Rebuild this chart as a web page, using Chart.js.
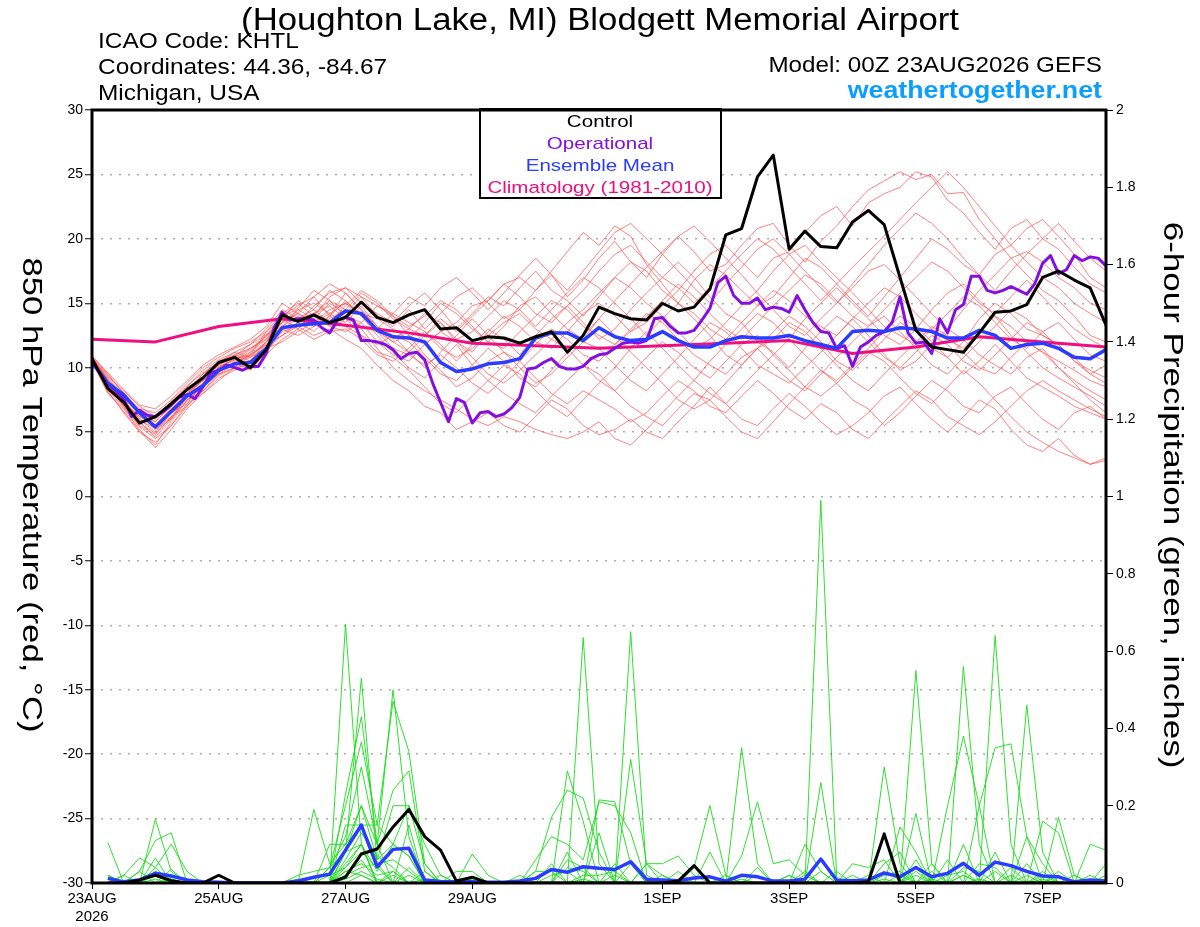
<!DOCTYPE html>
<html>
<head>
<meta charset="utf-8">
<script src="https://cdn.jsdelivr.net/npm/chart.js@4.4.1/dist/chart.umd.min.js"></script>
<style>
html, body { margin: 0; padding: 0; background: #fff; }
#wrap { width: 1200px; height: 927px; }
</style>
</head>
<body>
<div id="wrap"><canvas id="gefs" width="1200" height="927"></canvas></div>
<script>
// forecast steps (hours after 00Z 23AUG2026)
const stepHours = [];
for (let h = 0; h <= 384; h += 6) stepHours.push(h);
const opHours = [];
for (let h = 0; h <= 384; h += 3) opHours.push(h);
const climHours = [];
for (let h = 0; h <= 384; h += 24) climHours.push(h);
const precipHours = stepHours.slice(1);

const dayTickHours = [0, 48, 96, 144, 216, 264, 312, 360];
const dayTickLabels = [["23AUG", "2026"], "25AUG", "27AUG", "29AUG", "1SEP", "3SEP", "5SEP", "7SEP"];

// 850 hPa temperature, deg C
const controlTemp = [
  10.7, 8.4, 7.3, 5.7, 6.2, 7.2, 8.3, 9.2, 10.4, 10.8,
  10.0, 11.4, 14.1, 13.6, 14.1, 13.5, 13.9, 15.1, 13.9, 13.5,
  14.1, 14.5, 13.0, 13.1, 12.1, 12.4, 12.3, 11.9, 12.4, 12.8,
  11.2, 12.5, 14.7, 14.2, 13.8, 13.7, 15.0, 14.4, 14.7, 16.1,
  20.3, 20.8, 24.8, 26.5, 19.2, 20.6, 19.4, 19.3, 21.3, 22.2,
  21.1, 17.0, 12.9, 11.6, 11.4, 11.2, 12.7, 14.3, 14.4, 14.9,
  17.0, 17.5, 16.8, 16.2, 13.3
];
const meanTemp = [
  10.4, 8.8, 7.9, 6.5, 5.4, 6.6, 7.8, 8.6, 9.8, 10.3,
  10.4, 11.5, 13.1, 13.3, 13.4, 13.5, 14.4, 14.2, 12.9, 12.4,
  12.3, 12.0, 10.4, 9.7, 9.9, 10.3, 10.4, 10.7, 12.3, 12.7,
  12.7, 12.1, 13.1, 12.4, 12.1, 12.2, 12.8, 12.1, 11.6, 11.6,
  12.1, 12.4, 12.3, 12.3, 12.5, 12.1, 11.8, 11.5, 12.8, 12.9,
  12.8, 13.1, 13.0, 12.8, 12.3, 12.3, 12.9, 12.5, 11.5, 11.8,
  11.9, 11.5, 10.8, 10.7, 11.4
];
const operationalTemp = [
  10.5, 9.6, 8.7, 8.2, 7.6, 6.2, 6.7, 6.3, 6.2, 6.6,
  7.1, 7.7, 7.9, 7.6, 8.5, 9.6, 9.8, 10.2, 10.0, 9.8,
  10.1, 10.1, 11.1, 13.1, 14.3, 13.7, 13.8, 13.8, 13.7, 13.1,
  12.7, 13.7, 13.9, 13.7, 12.1, 12.1, 12.0, 11.8, 11.4, 10.7,
  11.1, 11.2, 10.6, 8.8, 7.3, 5.8, 7.6, 7.3, 5.7, 6.5,
  6.6, 6.2, 6.4, 6.9, 7.7, 9.9, 10.0, 10.4, 10.7, 10.1,
  9.9, 9.9, 10.1, 10.7, 11.0, 11.1, 11.5, 11.9, 12.0, 11.9,
  12.1, 13.8, 13.9, 13.2, 12.7, 12.7, 12.9, 13.7, 14.6, 16.6,
  17.1, 15.6, 15.0, 15.0, 15.4, 14.5, 14.7, 14.6, 14.3, 15.6,
  14.5, 13.5, 12.8, 12.7, 11.5, 11.7, 10.1, 11.6, 12.0, 12.5,
  12.8, 13.5, 15.5, 12.7, 11.9, 12.0, 11.1, 13.8, 12.7, 14.5,
  14.9, 17.1, 17.1, 16.0, 15.8, 16.0, 16.3, 16.0, 15.7, 16.5,
  18.1, 18.7, 17.3, 17.6, 18.7, 18.3, 18.6, 18.5, 17.9
];
const climatologyTemp = [12.2, 12.0, 13.2, 13.8, 13.3, 12.7, 11.9, 11.7, 11.5, 11.7, 11.9, 12.1, 11.1, 11.6, 12.4, 12.0, 11.6];

// ensemble members, one row each
const memberTemps = [
  [10.8, 9.0, 7.5, 6.0, 5.5, 6.8, 8.0, 9.5, 10.2, 11.0, 10.5, 12.0, 13.5, 14.5, 13.8, 15.0, 14.2, 15.5, 14.0, 13.2,
   14.5, 13.0, 14.2, 15.5, 16.2, 15.0, 13.8, 14.5, 16.0, 17.2, 15.5, 16.8, 18.5, 19.8, 18.2, 17.0, 18.8, 20.2, 19.0, 17.5,
   18.0, 19.5, 20.8, 21.2, 19.5, 18.2, 19.8, 21.0, 22.5, 23.8, 24.5, 25.2, 24.6, 25.0, 23.5, 23.6, 21.5, 20.0, 18.5, 17.2,
   16.0, 15.2, 14.0, 12.5, 12.0],
  [10.5, 8.2, 6.5, 5.0, 4.2, 5.5, 7.0, 8.5, 9.8, 10.4, 9.8, 11.2, 12.8, 13.2, 12.5, 13.0, 12.2, 11.5, 10.2, 9.0,
   8.2, 7.0, 6.5, 5.2, 5.8, 6.5, 5.5, 5.0, 6.2, 7.5, 6.8, 5.5, 4.8, 5.2, 6.0, 5.0, 4.5, 5.8, 7.0, 8.5,
   7.2, 6.0, 5.5, 6.8, 8.0, 7.0, 5.8, 4.8, 5.5, 6.5, 7.8, 8.5, 7.2, 6.0, 5.0, 6.2, 7.5, 6.8, 5.2, 4.0,
   3.5, 4.5, 3.2, 2.5, 3.0],
  [10.6, 8.8, 7.2, 6.2, 5.8, 7.0, 8.2, 9.0, 10.0, 10.8, 11.5, 12.5, 13.0, 13.8, 14.5, 13.5, 14.8, 16.0, 15.2, 14.0,
   12.5, 11.8, 12.8, 13.5, 14.8, 15.2, 16.5, 17.0, 16.0, 17.5, 19.0, 20.5, 19.5, 21.0, 20.2, 18.0, 16.5, 15.0, 13.8, 12.5,
   11.0, 10.2, 11.5, 12.8, 14.0, 13.2, 12.0, 10.5, 9.8, 11.0, 12.2, 13.5, 12.8, 11.5, 10.8, 12.0, 13.8, 15.0, 14.2, 13.0,
   12.5, 11.8, 10.5, 9.5, 8.8],
  [10.4, 8.5, 7.0, 5.5, 4.8, 6.2, 7.8, 8.8, 9.5, 10.0, 11.2, 12.2, 13.8, 13.0, 14.2, 14.8, 13.8, 13.2, 12.8, 12.0,
   12.5, 11.0, 9.8, 8.5, 9.2, 10.5, 11.2, 10.0, 8.8, 9.5, 10.8, 12.0, 11.5, 10.2, 9.0, 8.2, 9.5, 10.8, 12.2, 13.5,
   12.8, 11.5, 10.2, 9.5, 8.8, 10.0, 11.2, 12.5, 13.8, 12.5, 11.0, 9.8, 10.5, 11.8, 13.0, 12.2, 11.0, 10.2, 9.5, 10.8,
   11.5, 10.0, 9.0, 8.2, 7.5],
  [10.7, 9.2, 7.8, 6.5, 6.0, 7.2, 8.5, 9.8, 10.6, 11.2, 10.8, 12.0, 14.0, 14.8, 15.5, 14.0, 15.8, 14.5, 13.2, 12.2,
   13.0, 12.5, 13.5, 12.0, 11.2, 12.8, 14.0, 13.2, 12.0, 11.5, 12.8, 14.2, 15.0, 14.0, 12.8, 13.5, 14.8, 16.0, 17.5, 18.8,
   19.5, 18.2, 17.0, 18.5, 19.0, 20.5, 21.8, 22.5, 21.0, 22.8, 23.5, 24.0, 25.2, 24.8, 23.0, 22.0, 20.5, 19.2, 20.8, 21.5,
   20.0, 21.2, 19.8, 18.5, 17.5],
  [10.5, 8.0, 6.8, 5.2, 4.0, 5.8, 7.5, 8.2, 9.6, 10.5, 11.0, 11.8, 12.5, 13.5, 12.8, 14.0, 15.2, 14.0, 12.5, 11.2,
   10.0, 9.2, 10.5, 11.8, 10.2, 9.0, 8.0, 7.2, 6.5, 7.8, 9.0, 10.2, 9.5, 8.2, 7.0, 6.2, 5.5, 6.8, 8.0, 7.5,
   6.2, 5.0, 4.5, 5.8, 7.2, 8.5, 9.8, 8.8, 7.5, 6.8, 5.5, 6.5, 7.8, 9.0, 8.2, 7.0, 6.5, 7.8, 8.5, 7.2,
   6.0, 5.2, 6.5, 7.0, 6.0],
  [10.9, 9.5, 8.0, 6.8, 6.5, 7.5, 8.8, 10.0, 10.8, 11.5, 12.0, 12.8, 14.2, 15.0, 14.0, 15.5, 16.2, 15.0, 14.2, 13.5,
   14.8, 15.8, 14.5, 13.0, 14.2, 15.5, 14.8, 16.2, 17.5, 16.0, 15.2, 14.0, 15.5, 17.0, 18.2, 17.5, 16.0, 15.0, 16.8, 18.0,
   17.2, 16.0, 14.8, 15.5, 17.0, 18.5, 17.8, 16.5, 15.2, 14.0, 15.5, 17.0, 18.5, 20.0, 19.2, 18.0, 17.2, 18.8, 19.5, 20.8,
   21.5, 20.2, 18.8, 17.0, 16.2],
  [10.3, 8.6, 7.3, 6.0, 5.0, 6.5, 7.2, 8.0, 9.2, 9.8, 10.5, 11.5, 12.0, 12.8, 13.5, 12.8, 13.0, 12.2, 11.0, 10.5,
   11.5, 12.8, 11.8, 10.5, 11.8, 13.0, 12.2, 11.0, 12.5, 13.8, 14.8, 13.5, 12.2, 13.0, 14.5, 15.8, 17.0, 18.2, 17.0, 15.5,
   14.2, 13.5, 12.0, 11.2, 10.0, 11.5, 12.8, 14.0, 13.2, 12.0, 10.8, 10.0, 11.2, 12.5, 11.8, 10.5, 9.8, 11.0, 12.2, 13.5,
   12.8, 11.5, 10.8, 9.5, 10.2],
  [10.6, 8.9, 7.6, 6.4, 5.2, 6.0, 7.8, 9.2, 10.2, 10.9, 11.8, 12.6, 13.2, 14.0, 13.2, 13.8, 14.5, 13.0, 11.5, 10.0,
   9.0, 8.2, 7.5, 6.8, 6.0, 5.5, 6.2, 5.8, 5.2, 4.8, 4.5, 5.0, 5.8, 4.5, 4.0, 5.2, 6.5, 7.8, 9.0, 10.5,
   11.8, 13.0, 14.2, 13.5, 12.2, 13.8, 15.0, 16.2, 15.0, 13.8, 12.5, 11.8, 13.0, 14.5, 15.8, 16.5, 15.2, 14.0, 12.5, 11.2,
   10.0, 9.2, 8.5, 7.8, 7.0],
  [10.8, 9.0, 7.8, 6.6, 5.8, 7.0, 8.2, 9.5, 10.5, 11.0, 11.5, 12.2, 13.5, 14.2, 13.5, 14.5, 15.0, 14.2, 13.8, 13.0,
   12.2, 13.5, 15.0, 14.2, 13.0, 12.0, 13.2, 14.8, 15.5, 14.2, 13.0, 12.2, 13.8, 15.2, 16.5, 17.8, 19.0, 20.2, 21.0, 19.8,
   18.5, 17.2, 15.8, 14.5, 13.2, 12.5, 13.8, 15.0, 16.2, 17.5, 18.0, 16.8, 15.5, 14.2, 13.0, 14.5, 16.0, 17.2, 18.5, 19.0,
   18.2, 17.0, 16.2, 15.0, 14.5],
  [10.4, 8.3, 6.9, 5.4, 4.5, 5.5, 7.2, 8.8, 9.8, 10.2, 10.8, 11.5, 12.5, 13.2, 14.0, 13.2, 12.8, 13.5, 12.0, 11.0,
   10.5, 11.8, 12.8, 12.0, 10.8, 9.5, 8.8, 9.8, 11.0, 12.2, 11.5, 10.2, 9.0, 8.2, 9.5, 10.8, 12.0, 11.2, 10.0, 9.2,
   10.5, 11.8, 12.5, 11.0, 9.8, 8.5, 7.8, 8.8, 10.0, 11.2, 10.5, 9.2, 8.0, 7.2, 8.5, 9.8, 8.8, 7.5, 6.2, 5.0,
   4.2, 3.5, 3.0, 2.5, 2.8],
  [10.7, 9.3, 8.2, 7.0, 6.2, 7.2, 8.0, 9.0, 9.9, 10.6, 11.2, 12.5, 14.0, 13.5, 14.8, 15.8, 16.2, 15.5, 14.8, 14.2,
   13.5, 12.8, 11.5, 10.8, 11.5, 12.5, 13.5, 14.2, 13.0, 12.2, 13.5, 14.5, 15.8, 17.0, 16.2, 15.0, 14.0, 12.8, 11.5, 12.2,
   13.5, 14.8, 16.0, 17.5, 18.8, 19.5, 18.2, 17.0, 15.8, 14.5, 13.2, 12.5, 11.8, 13.0, 14.2, 15.5, 14.8, 13.5, 12.2, 11.5,
   12.8, 13.5, 12.2, 11.0, 10.5],
  [10.5, 8.7, 7.4, 6.2, 5.5, 6.5, 7.5, 8.5, 9.5, 10.3, 11.0, 12.0, 13.2, 14.5, 15.0, 14.2, 13.5, 14.8, 13.2, 12.5,
   12.0, 10.8, 9.5, 9.0, 10.2, 11.5, 10.5, 9.2, 8.5, 9.8, 11.2, 12.5, 13.8, 12.5, 11.2, 10.0, 8.8, 7.5, 6.8, 7.5,
   8.8, 10.2, 11.5, 12.2, 13.5, 12.8, 11.5, 10.2, 9.0, 8.2, 9.5, 10.8, 12.0, 13.2, 12.5, 11.2, 10.0, 9.5, 10.8, 12.0,
   11.2, 10.0, 8.8, 7.5, 6.5],
  [10.6, 9.0, 7.0, 5.8, 4.6, 6.0, 7.8, 9.0, 10.0, 10.7, 11.0, 12.8, 13.8, 15.2, 14.5, 16.0, 15.2, 14.0, 13.0, 14.2,
   15.5, 14.8, 16.2, 17.0, 15.8, 14.5, 15.8, 17.2, 18.5, 17.2, 16.0, 17.5, 19.0, 20.5, 21.2, 20.0, 18.8, 17.5, 16.2, 15.0,
   16.5, 17.8, 19.2, 20.0, 18.8, 17.5, 16.2, 15.0, 16.5, 18.0, 19.5, 20.8, 22.0, 21.2, 20.0, 18.5, 17.2, 16.0, 17.5, 18.8,
   20.0, 19.2, 17.8, 16.5, 15.8],
  [10.4, 8.4, 7.1, 5.9, 5.3, 6.2, 7.0, 8.2, 9.4, 10.0, 10.6, 11.8, 13.0, 12.5, 13.2, 14.0, 13.2, 12.5, 11.2, 10.8,
   9.8, 8.5, 7.2, 6.5, 7.8, 9.0, 10.2, 9.5, 8.2, 7.0, 6.2, 7.5, 8.8, 10.0, 11.5, 12.8, 11.5, 10.2, 9.0, 8.0,
   7.2, 8.5, 9.8, 11.0, 12.2, 11.0, 9.8, 9.0, 10.2, 11.5, 12.8, 14.0, 13.2, 12.0, 10.8, 9.5, 10.5, 11.8, 10.5, 9.2,
   8.5, 7.8, 7.0, 6.5, 6.0],
  [10.8, 9.4, 8.0, 6.6, 6.0, 7.4, 8.6, 9.6, 10.4, 11.2, 11.8, 13.0, 14.5, 13.8, 14.2, 15.2, 14.0, 13.5, 14.8, 14.0,
   13.2, 14.0, 15.2, 14.5, 13.2, 12.0, 11.5, 12.8, 14.0, 15.2, 14.5, 13.2, 12.5, 11.8, 12.8, 14.0, 15.2, 16.5, 15.5, 14.2,
   13.0, 12.2, 13.5, 14.8, 16.0, 17.2, 16.5, 15.2, 14.0, 13.2, 14.5, 15.8, 17.0, 18.2, 17.5, 16.2, 15.0, 14.2, 15.5, 16.8,
   15.5, 14.2, 13.0, 12.2, 11.5],
  [10.5, 8.1, 6.6, 5.1, 3.8, 5.2, 6.8, 8.0, 9.0, 10.0, 10.2, 11.0, 12.2, 13.0, 12.2, 12.8, 13.8, 12.5, 11.8, 12.5,
   11.2, 10.0, 11.2, 12.5, 13.8, 12.5, 11.2, 10.5, 9.2, 8.0, 7.2, 8.2, 7.5, 6.8, 5.8, 6.5, 7.8, 9.0, 8.2, 7.0,
   6.5, 7.8, 9.0, 8.0, 6.8, 6.0, 7.2, 6.5, 5.2, 4.5, 5.8, 7.0, 8.2, 7.5, 6.2, 5.5, 4.8, 5.8, 7.0, 8.2,
   9.0, 8.2, 7.5, 6.8, 6.2],
  [10.9, 9.6, 8.3, 7.1, 6.8, 7.8, 9.0, 10.2, 11.0, 11.6, 12.2, 13.2, 15.0, 14.2, 15.5, 16.5, 15.8, 14.5, 13.0, 12.0,
   11.2, 12.5, 13.8, 12.8, 14.0, 15.2, 16.5, 15.5, 14.2, 13.5, 14.8, 16.0, 17.5, 18.8, 19.5, 18.2, 17.0, 16.2, 15.0, 16.2,
   17.5, 18.8, 20.0, 19.2, 17.8, 16.5, 15.2, 16.5, 17.8, 19.0, 20.2, 21.5, 22.8, 24.0, 25.2, 24.0, 22.5, 21.0, 19.5, 18.2,
   17.0, 16.2, 15.0, 14.2, 13.5],
  [10.6, 8.6, 7.2, 5.7, 4.9, 6.1, 7.4, 8.6, 9.7, 10.4, 10.9, 12.0, 13.6, 14.2, 13.5, 14.2, 15.0, 14.2, 12.8, 11.5,
   11.0, 10.2, 11.0, 10.0, 8.8, 8.0, 9.2, 10.5, 11.8, 13.0, 12.2, 11.0, 10.5, 11.8, 13.0, 14.2, 13.5, 12.2, 11.0, 10.2,
   9.5, 10.8, 11.5, 10.2, 9.0, 8.2, 9.5, 10.8, 12.0, 13.2, 14.0, 12.8, 11.5, 10.2, 9.5, 10.8, 12.0, 13.2, 14.5, 13.8,
   12.5, 11.8, 10.5, 9.8, 9.2],
  [10.7, 9.1, 7.7, 6.3, 5.6, 6.8, 7.9, 9.3, 10.1, 10.6, 11.4, 12.4, 13.9, 14.6, 16.0, 15.2, 14.5, 15.8, 15.0, 13.8,
   13.0, 14.2, 13.5, 12.2, 12.8, 14.0, 15.2, 14.5, 13.2, 14.5, 15.8, 17.0, 16.2, 15.0, 13.8, 12.5, 13.8, 15.0, 14.2, 13.0,
   12.2, 13.5, 14.8, 16.0, 15.2, 14.0, 13.2, 12.5, 13.8, 15.0, 16.2, 15.5, 14.2, 13.0, 12.2, 11.5, 12.8, 14.0, 13.2, 12.0,
   11.2, 10.5, 9.8, 9.0, 8.5]
];

// 6-hour precipitation, inches (from hour 6)
const controlPrecip = [
  0, 0, .008, .02, .006, 0, 0, .02, 0,
  0, 0, 0, 0, 0, 0, .015, .075, .088, .145,
  .19, .12, .085, .005, .015, 0, 0, 0, 0, 0,
  0, 0, 0, 0, 0, 0, 0, .005, .045, 0,
  0, 0, 0, 0, 0, 0, 0, 0, 0, .003,
  .127, 0, 0, 0, 0, 0, 0, 0, 0, 0,
  0, 0, 0, 0, 0
];
const meanPrecip = [
  .012, .003, .008, .025, .018, .008, .003, .002, 0,
  0, 0, 0, .005, .015, .023, .085, .15, .042, .087,
  .09, .008, .004, .003, .003, .002, .002, .005, .012, .035,
  .028, .042, .038, .035, .055, .01, .008, .006, .013, .016,
  .005, .02, .016, .005, .005, .01, .062, .007, .006, .008,
  .026, .016, .04, .016, .025, .051, .02, .054, .045, .03,
  .018, .016, .003, .008, .005
];
const memberPrecips = [
  [.105,0,0,0,0,0,0,0,0, 0,0,0,0,0,0,.67,.1,0,0, 0,0,0,0,0,0,0,0,0,0, 0,.635,.05,0,0,0,0,0,0,0,
   0,0,0,0,0,0,.26,0,0,0, 0,0,0,0,0,0,0,.08,0,0, 0,0,0,0,0],
  [0,0,0,.165,.03,0,0,0,0, 0,0,0,0,0,0,.08,.53,.05,0, 0,0,0,0,0,0,0,0,0,0, 0,0,0,0,.65,.02,0,0,0,0,
   0,0,0,0,0,0,.99,.015,0,0, 0,0,0,0,0,.1,0,0,0,0, 0,0,0,0,0],
  [.02,0,.03,.11,.13,0,0,0,0, 0,0,0,0,0,0,.23,.43,.1,.5, .12,0,0,0,0,0,0,0,0,0, .29,.16,0,0,0,0,0,0,0,0,
   0,.35,.05,0,0,0,0,0,0,0, 0,0,.55,.05,0,0,0,0,0,0, 0,0,0,0,0],
  [0,.02,.065,.04,.1,.03,0,0,0, 0,0,0,0,0,.04,.2,.365,.15,.47, .34,.05,0,0,0,0,0,0,0,0, 0,0,0,0,.32,.05,0,0,0,0,
   0,0,0,0,0,0,0,0,0,0, 0,0,0,0,0,.56,.1,0,0,0, 0,0,0,0,0],
  [0,0,0,.02,0,0,0,0,0, 0,0,0,0,.19,.05,.1,.2,.1,.24, .29,.03,0,0,0,0,0,0,.03,.17, .24,.22,.08,0,0,0,0,0,0,0,
   0,0,0,0,0,0,0,0,0,0, 0,0,0,0,0,0,0,.64,.1,0, 0,0,0,0,0],
  [0,0,0,0,.035,0,0,0,0, 0,0,0,0,0,0,.15,.15,.06,.2, .2,.1,.02,0,0,0,0,0,0,0, 0,0,0,0,0,0,0,0,.04,.2,
   .02,0,0,0,0,0,0,0,0,0, .3,.05,0,0,0,0,0,0,0,.46, .08,0,0,0,0],
  [.02,0,0,.065,0,0,0,0,0, 0,0,0,0,0,.1,.1,.15,.15,.1, .07,0,0,0,0,0,0,0,0,0, 0,0,.215,.21,.05,0,0,0,0,0,
   0,0,0,0,0,0,0,0,0,0, 0,0,0,0,.2,.38,.2,.35,.36,.12, .05,0,0,0,0],
  [0,0,0,0,0,0,0,0,0, 0,0,0,0,0,0,.05,.1,0,0, 0,0,0,0,.075,.02,0,0,.06,.12, .1,.06,.21,.2,.13,0,0,0,0,0,
   0,0,0,0,0,.1,.03,0,0,0, 0,0,.18,0,0,0,0,0,0,0, 0,.17,.02,0,0],
  [0,0,0,0,0,0,0,0,0, 0,0,0,0,0,.04,.08,.1,0,0, 0,0,0,0,0,0,0,0,0,0, 0,0,0,0,0,.05,.05,.07,.02,0,
   0,.07,.21,.05,.06,.02,0,0,0,0, 0,.145,.08,0,0,0,0,0,0,0, .16,.13,0,.1,.085],
  [0,0,0,.04,0,0,0,0,0, 0,0,0,0,0,0,.08,.2,.06,.1, .2,.05,0,0,0,0,0,0,0,0, .08,0,0,0,0,0,0,.03,0,.08,
   0,0,0,0,.02,0,0,0,.05,.04, .06,0,.06,0,0,0,.2,0,0,0, 0,0,0,0,0],
  [0,0,.03,0,0,0,0,0,0, 0,0,0,.02,.03,.04,.12,.3,.1,0, .15,0,0,0,0,0,0,0,0,.05, 0,0,.13,0,0,0,0,0,0,0,
   0,0,0,0,0,0,0,.03,0,0, .05,.08,0,0,.06,0,0,0,0,.12, 0,0,0,0,0],
  [0,0,0,0,0,0,0,0,0, 0,0,0,0,0,0,.06,.13,.07,.04, 0,0,0,.03,.03,0,0,0,0,0, 0,0,0,.05,0,.05,.02,0,0,0,
   0,0,0,0,0,.03,0,0,0,0, 0,0,0,.03,0,0,0,0,0,.05, 0,.03,0,0,.05],
  [.02,0,0,.03,.01,0,0,0,0, 0,0,0,0,0,.02,.04,.08,.04,0, .04,0,0,0,0,0,0,0,0,0, .04,.03,0,0,0,0,0,0,0,0,
   0,0,0,0,0,0,0,0,.02,0, 0,0,.04,0,0,.04,.03,0,0,0, .03,0,0,.02,0],
  [0,0,0,.01,0,0,0,0,0, 0,0,0,.01,0,0,.03,.05,.02,.03, 0,.03,0,0,0,0,0,0,.03,.03, 0,0,0,0,0,0,0,0,.04,0,
   .02,0,.04,0,0,0,.03,0,0,0, 0,0,0,.05,0,0,0,0,.04,0, 0,0,.02,0,0],
  [0,0,0,0,0,0,0,0,0, 0,0,0,0,0,0,.02,.06,0,.02, 0,0,.02,0,0,0,0,.02,0,0, 0,.02,.02,.03,0,0,0,0,0,0,
   0,0,0,0,.02,0,0,0,0,0, .02,.03,0,0,0,0,0,.03,0,0, 0,.02,0,0,0],
  [0,0,0,0,.01,0,0,0,0, 0,0,0,0,0,0,.04,.1,.03,.1, .07,0,0,0,0,0,0,0,0,0, .06,.04,0,0,0,0,0,0,0,0,
   0,0,0,0,0,0,0,0,0,.02, 0,0,.02,0,0,0,.05,.04,0,0, .02,0,0,0,0],
  [0,.02,0,0,0,0,0,0,0, 0,0,0,0,0,0,.02,.04,.05,.06, .03,0,0,0,.01,0,0,0,0,0, 0,0,0,.02,0,0,.02,0,0,0,
   0,.01,0,0,0,.02,0,0,0,0, .01,0,0,0,.02,.03,0,0,.02,0, 0,0,0,.01,0],
  [0,0,0,0,0,0,0,0,0, 0,0,0,0,0,0,.03,.02,0,0, .02,0,0,0,0,0,0,0,0,.02, .03,0,0,0,.05,0,0,0,0,0,
   0,0,.02,0,0,0,0,0,0,0, 0,0,.03,0,0,.02,0,0,0,.02, 0,0,0,0,.02],
  [0,0,0,0,0,0,0,0,0, 0,0,0,0,0,0,.01,.03,.01,0, 0,.01,0,0,0,0,0,0,0,0, 0,.01,0,0,0,0,0,.01,0,0,
   0,0,0,0,0,0,0,0,.01,0, 0,0,0,.01,0,0,.01,0,0,0, .01,0,0,0,0],
  [0,0,0,0,0,0,0,0,0, 0,0,0,0,0,0,0,.02,0,.03, 0,0,0,0,0,0,0,0,0,0, 0,0,0,0,0,0,0,0,0,0,
   0,0,0,0,0,0,0,0,0,0, 0,.02,0,0,0,.02,0,0,0,0, 0,0,0,0,0]
];

function pts(xs, ys) {
    return ys.map((y, i) => ({x: xs[i], y: y}));
}

const FONT = '"Liberation Sans", Arial, sans-serif';
const datasets = [];

datasets.push({data: pts(precipHours, controlPrecip), yAxisID: "y2", borderColor: "#000", borderWidth: 3, order: 1});
datasets.push({data: pts(precipHours, meanPrecip), yAxisID: "y2", borderColor: "#2a3cff", borderWidth: 3.5, order: 2});
datasets.push({data: pts(stepHours, controlTemp), yAxisID: "y", borderColor: "#000", borderWidth: 3, order: 3});
datasets.push({data: pts(stepHours, meanTemp), yAxisID: "y", borderColor: "#2a3cff", borderWidth: 3.5, order: 4});
datasets.push({data: pts(opHours, operationalTemp), yAxisID: "y", borderColor: "#8410e0", borderWidth: 3, order: 5});
datasets.push({data: pts(climHours, climatologyTemp), yAxisID: "y", borderColor: "#ee0f80", borderWidth: 3, order: 6});
memberPrecips.forEach(m => {
    datasets.push({data: pts(precipHours, m), yAxisID: "y2", borderColor: "rgba(25,220,25,0.9)", borderWidth: 1, order: 7});
});
memberTemps.forEach(m => {
    datasets.push({data: pts(stepHours, m), yAxisID: "y", borderColor: "rgba(255,80,80,0.72)", borderWidth: 1, order: 8});
});

// text drawn a little wider than Liberation Sans, like the original image font
function wideText(c, text, x, y, size, sx, align, weight, rot) {
    c.save();
    c.font = (weight ? weight + " " : "") + size + "px " + FONT;
    c.textAlign = align;
    c.translate(x, y);
    if (rot) c.rotate(rot);
    c.scale(sx, 1);
    c.fillText(text, 0, 0);
    c.restore();
}

const decorations = {
    id: "decorations",
    afterDatasetsDraw(chart) {
        const c = chart.ctx;
        const a = chart.chartArea;
        c.save();
        // legend box
        c.fillStyle = "#fff";
        c.fillRect(480, 109, 241, 89);
        c.strokeStyle = "#000";
        c.lineWidth = 2;
        c.strokeRect(480, 109, 241, 89);
        c.textBaseline = "alphabetic";
        [["Control", "#000"], ["Operational", "#8410e0"], ["Ensemble Mean", "#2a3cff"], ["Climatology (1981-2010)", "#ee0f80"]]
            .forEach((row, i) => {
                c.fillStyle = row[1];
                wideText(c, row[0], 600, 127 + i * 22, 17, 1.21, "center");
            });
        // frame
        c.lineWidth = 3;
        c.strokeRect(a.left, a.top, a.right - a.left, a.bottom - a.top);
        c.restore();
    },
    afterDraw(chart) {
        const c = chart.ctx;
        c.save();
        c.fillStyle = "#000";
        c.textBaseline = "alphabetic";
        wideText(c, "(Houghton Lake, MI) Blodgett Memorial Airport", 600, 30, 31, 1.12, "center");
        wideText(c, "ICAO Code: KHTL", 98, 48, 22, 1.11, "left");
        wideText(c, "Coordinates: 44.36, -84.67", 98, 74, 22, 1.11, "left");
        wideText(c, "Michigan, USA", 98, 100, 22, 1.11, "left");
        wideText(c, "Model: 00Z 23AUG2026 GEFS", 1102, 72, 22, 1.10, "right");
        c.fillStyle = "#0a9eff";
        wideText(c, "weathertogether.net", 1102, 98, 24, 1.115, "right", "bold");
        // axis titles
        c.fillStyle = "#000";
        c.textBaseline = "middle";
        wideText(c, "850 hPa Temperature (red, °C)", 31, 495, 28, 1.24, "center", "", Math.PI / 2);
        wideText(c, "6-hour Precipitation (green, inches)", 1172, 495, 28, 1.25, "center", "", Math.PI / 2);
        c.restore();
    }
};

const chart = new Chart(document.getElementById("gefs"), {
    type: "line",
    data: {datasets: datasets},
    options: {
        responsive: false,
        animation: false,
        devicePixelRatio: 1,
        layout: {padding: {top: 110, left: 0, right: 0, bottom: 0}},
        elements: {
            point: {radius: 0},
            line: {tension: 0, fill: false, borderJoinStyle: "round"}
        },
        plugins: {
            legend: {display: false},
            tooltip: {enabled: false}
        },
        scales: {
            x: {
                type: "linear",
                min: 0,
                max: 384,
                afterBuildTicks: s => { s.ticks = dayTickHours.map(v => ({value: v})); },
                afterFit: s => { s.height = 44; },
                ticks: {
                    autoSkip: false,
                    maxRotation: 0,
                    padding: 1,
                    color: "#000",
                    font: {family: FONT, size: 15},
                    callback: v => dayTickLabels[dayTickHours.indexOf(v)]
                },
                grid: {drawOnChartArea: false, tickLength: 6, tickColor: "#000", tickWidth: 1},
                border: {display: false}
            },
            y: {
                position: "left",
                min: -30,
                max: 30,
                afterFit: s => { s.width = 92; },
                ticks: {stepSize: 5, padding: 2, color: "#000", font: {family: FONT, size: 14}},
                grid: {color: "#ababab", lineWidth: 1.5, tickLength: 7, tickColor: "#000", tickWidth: 1},
                border: {display: false, dash: [2, 7]}
            },
            y2: {
                position: "right",
                min: 0,
                max: 2,
                afterFit: s => { s.width = 94; },
                ticks: {stepSize: 0.2, padding: 3, color: "#000", font: {family: FONT, size: 14},
                        callback: v => String(+v.toFixed(1))},
                grid: {drawOnChartArea: false, tickLength: 7, tickColor: "#000", tickWidth: 1},
                border: {display: false}
            }
        }
    },
    plugins: [decorations]
});
</script>
</body>
</html>
